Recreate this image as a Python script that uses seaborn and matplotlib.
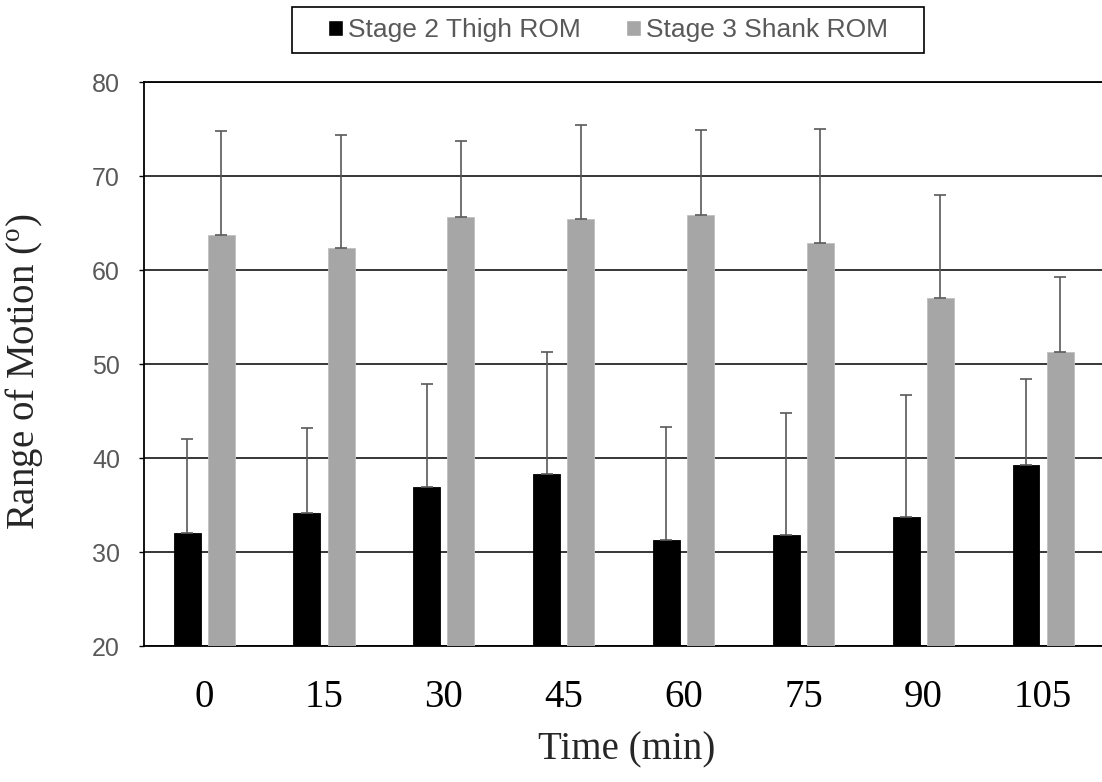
import matplotlib
matplotlib.use("Agg")
import matplotlib.pyplot as plt
from matplotlib.patches import Rectangle
import seaborn as sns
import pandas as pd
import numpy as np

# ---- data ----
times = ['0', '15', '30', '45', '60', '75', '90', '105']
thigh = [32.0, 34.2, 36.9, 38.3, 31.3, 31.8, 33.7, 39.3]
thigh_sd = [10.0, 9.0, 11.0, 13.0, 12.0, 13.0, 13.0, 9.1]
shank = [63.7, 62.4, 65.7, 65.4, 65.9, 62.9, 57.0, 51.3]
shank_sd = [11.1, 12.0, 8.0, 10.0, 9.0, 12.1, 11.0, 8.0]
series = ['Stage 2 Thigh ROM', 'Stage 3 Shank ROM']
yticks = [20, 30, 40, 50, 60, 70, 80]

df = pd.DataFrame({
    'Time': times * 2,
    'ROM': thigh + shank,
    'Series': [series[0]] * len(times) + [series[1]] * len(times),
})
sds = {series[0]: thigh_sd, series[1]: shank_sd}

sns.set_theme(style='white')
plt.rcParams['font.family'] = ['Liberation Sans', 'DejaVu Sans']
plt.rcParams['mathtext.fontset'] = 'custom'
plt.rcParams['mathtext.rm'] = 'Liberation Serif'

W, H = 1102, 782
fig = plt.figure(figsize=(W / 100, H / 100), dpi=100)
ax = fig.add_axes([0.1309, 0.1739, 0.870, 0.7209])

palette = {series[0]: '#000000', series[1]: '#a6a6a6'}
sns.barplot(data=df, x='Time', y='ROM', hue='Series', order=times,
            hue_order=series, palette=palette, width=0.57, gap=0.21,
            errorbar=None, ax=ax, zorder=3, saturation=1)

for cont, name in zip(ax.containers, series):
    xs = [p.get_x() + p.get_width() / 2 for p in cont.patches]
    hs = [p.get_height() for p in cont.patches]
    sd = sds[name]
    ax.errorbar(xs, hs, yerr=[np.zeros(len(sd)), sd], fmt='none',
                ecolor='#595959', elinewidth=1.2, capsize=4.2,
                capthick=1.2, zorder=4)
    for p in cont.patches:
        p.set_edgecolor('#c0c0c0' if name == series[1] else '#000000')
        p.set_linewidth(0.6)

ax.set_ylim(20, 80)
ax.set_xlim(-0.5, 7.5)
ax.set_yticks(yticks)
ax.set_yticklabels([str(v) for v in yticks], color='#595959', fontsize=18)
ax.yaxis.grid(True, color='black', linewidth=1.1, zorder=0)
ax.set_axisbelow(True)

ax.tick_params(axis='y', which='both', left=True, length=3.5, width=1,
               color='black', pad=14)
ax.tick_params(axis='x', length=0, pad=24)
for lbl in ax.get_xticklabels():
    lbl.set_fontfamily('Liberation Serif')
    lbl.set_fontsize(28)
    lbl.set_color('black')

for s in ['left', 'bottom', 'top']:
    ax.spines[s].set_visible(True)
    ax.spines[s].set_color('black')
    ax.spines[s].set_linewidth(1.3)
ax.spines['right'].set_visible(False)

ax.set_xlabel('Time (min)', fontfamily='Liberation Serif', fontsize=28)
ax.xaxis.set_label_coords(0.503, -0.152)
ax.set_ylabel(r'Range of Motion ($\mathregular{^o}$)',
              fontfamily='Liberation Serif', fontsize=28)
ax.yaxis.set_label_coords(-0.1036, 0.486)

# legend (frame drawn separately to get Excel-like padding)
sns.move_legend(ax, loc='center', bbox_to_anchor=(608 / W, 1 - 30 / H),
                bbox_transform=fig.transFigure, ncol=2, title=None,
                frameon=False, fontsize=19,
                handlelength=0.57, handleheight=0.57, handletextpad=0.19,
                columnspacing=1.7, borderpad=0.3, labelcolor='#595959')
box_l, box_r, box_t, box_b = 292, 924, 7, 53
fig.patches.append(Rectangle((box_l / W, 1 - box_b / H),
                             (box_r - box_l) / W, (box_b - box_t) / H,
                             transform=fig.transFigure, fill=False,
                             edgecolor='black', linewidth=1.2))

fig.savefig('out.png', dpi=100)
